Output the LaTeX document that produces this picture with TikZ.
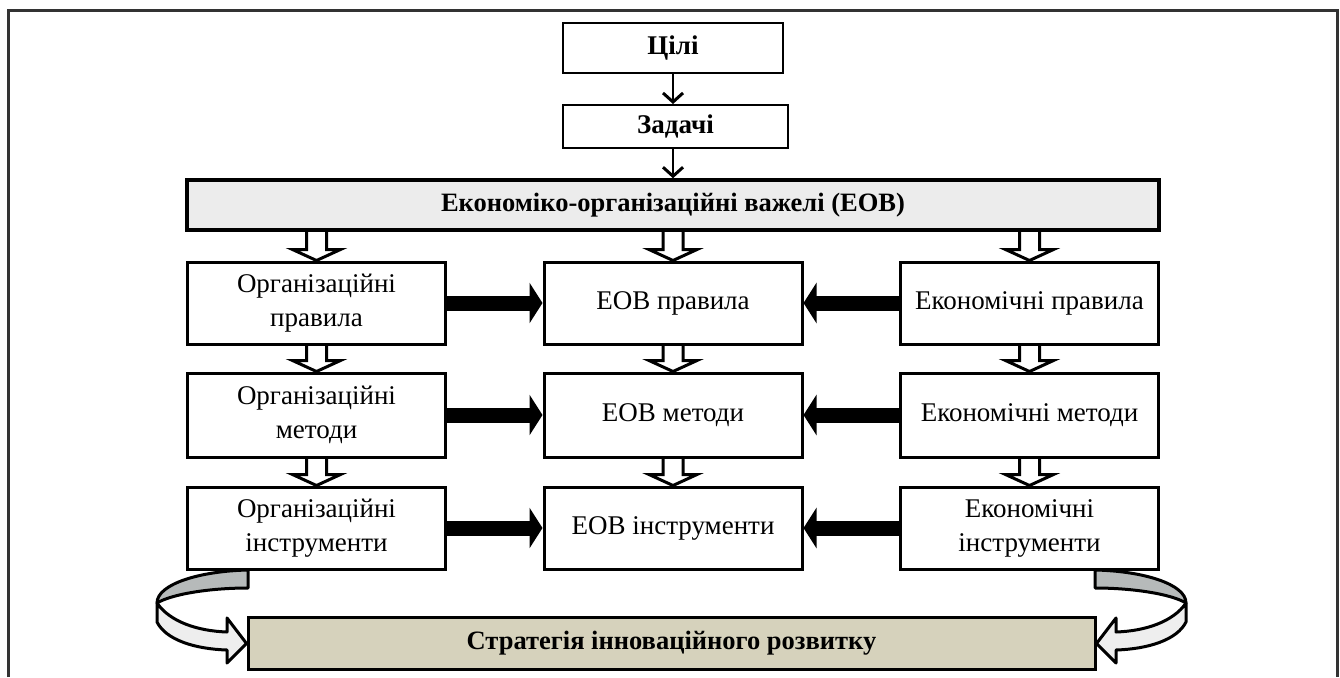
\documentclass[tikz,border=0pt]{standalone}
\usepackage{fontspec}
\setmainfont{Liberation Serif}
\usetikzlibrary{arrows.meta,calc}
\definecolor{barfill}{HTML}{ECECEC}
\definecolor{stratfill}{HTML}{D6D2BC}
\definecolor{backband}{HTML}{B6BABA}
\definecolor{frontband}{HTML}{EEEEEE}
\definecolor{framecol}{HTML}{333333}
\pgfdeclarelayer{bg}
\pgfsetlayers{bg,main}
\newcommand\hollowarr[2]{%
  \draw[hollowstyle] let \p1=(#1), \p2=(#2) in
    (\x1-10pt,\y1) -- (\x1-10pt,\y2+11pt) -- (\x1-24pt,\y2+11pt) -- (\x1,\y2)
    -- (\x1+24pt,\y2+11pt) -- (\x1+10pt,\y2+11pt) -- (\x1+10pt,\y1);}
\begin{document}
\begin{tikzpicture}[x=1pt,y=-1pt,
  box/.style={draw, line width=3pt, fill=white, minimum width=258pt, minimum height=82pt,
    inner sep=0pt, align=center, font=\fontsize{27}{34}\selectfont},
  topbox/.style={draw, line width=2pt, fill=white, inner sep=0pt, font=\bfseries\fontsize{27}{32}\selectfont},
  barbox/.style={draw, line width=3.5pt, fill=barfill, inner sep=0pt, minimum width=972pt,
    minimum height=50pt, font=\bfseries\fontsize{26.5}{32}\selectfont},
  stratbox/.style={draw, line width=3pt, fill=stratfill, inner sep=0pt, minimum width=847pt,
    minimum height=52pt, font=\bfseries\fontsize{26.5}{32}\selectfont},
  thinarrow/.style={line width=2.5pt, -{Straight Barb[length=9pt,width=20pt,line width=3pt]}},
  hollowstyle/.style={draw, line width=3pt, fill=white, line join=miter},
  blk/.style={line width=15pt, -{Triangle[length=13pt,width=40pt]}},
  band/.style={draw, line width=3pt, line join=round}
]
\useasboundingbox (0,0) rectangle (1340,677);
\draw[framecol, line width=3pt] (8,677) -- (8,11) -- (1337,11) -- (1337,677);

\node[topbox, minimum width=220pt, minimum height=50pt] (goals) at (673,48) {Цілі};
\node[topbox, minimum width=225pt, minimum height=43pt] (tasks) at (675.5,126.5) {Задачі};
\node[barbox] (bar) at (673,205) {Економіко-організаційні важелі (ЕОВ)};

\node[box] (o1) at (316.5,303) {Організаційні\\правила};
\node[box] (m1) at (673,303) {ЕОВ правила};
\node[box] (e1) at (1029.5,303) {Економічні правила};
\node[box, minimum height=84pt] (o2) at (316.5,415) {Організаційні\\методи};
\node[box, minimum height=84pt] (m2) at (673,415) {ЕОВ методи};
\node[box, minimum height=84pt] (e2) at (1029.5,415) {Економічні методи};
\node[box] (o3) at (316.5,528) {Організаційні\\інструменти};
\node[box] (m3) at (673,528) {ЕОВ інструменти};
\node[box] (e3) at (1029.5,528) {Економічні\\інструменти};

\node[stratbox] (strat) at (671.5,643.5) {Стратегія інноваційного розвитку};

\draw[thinarrow] (goals.south) -- (goals.south |- tasks.north);
\draw[thinarrow] (goals.south |- tasks.south) -- (goals.south |- bar.north);

\begin{pgfonlayer}{bg}
  \foreach \c in {o,m,e}{
    \hollowarr{bar.south -| \c1.north}{\c1.north}
    \hollowarr{\c1.south}{\c2.north}
    \hollowarr{\c2.south}{\c3.north}
  }
  \foreach \r in {1,2,3}{
    \draw[blk] (o\r.east) -- (m\r.west);
    \draw[blk] (e\r.west) -- (m\r.east);
  }
\end{pgfonlayer}

% left curved arrow
\draw[band, fill=backband] (248,570) .. controls (200,571) and (157,584) .. (157,603)
  .. controls (172,594) and (210,588) .. (248,588) -- cycle;
\draw[band, fill=frontband] (157,603) -- (157,622) .. controls (166,640) and (195,649) .. (227,650)
  -- (227,663) -- (strat.west) -- (227,618) -- (227,632)
  .. controls (198,631) and (170,622) .. (157,603) -- cycle;
% right curved arrow
\draw[band, fill=backband] (1095,570) .. controls (1143,571) and (1186,584) .. (1186,603)
  .. controls (1171,594) and (1133,588) .. (1095,588) -- cycle;
\draw[band, fill=frontband] (1186,603) -- (1186,622) .. controls (1177,640) and (1148,649) .. (1116,650)
  -- (1116,663) -- (strat.east) -- (1116,618) -- (1116,632)
  .. controls (1145,631) and (1173,622) .. (1186,603) -- cycle;
\end{tikzpicture}
\end{document}
